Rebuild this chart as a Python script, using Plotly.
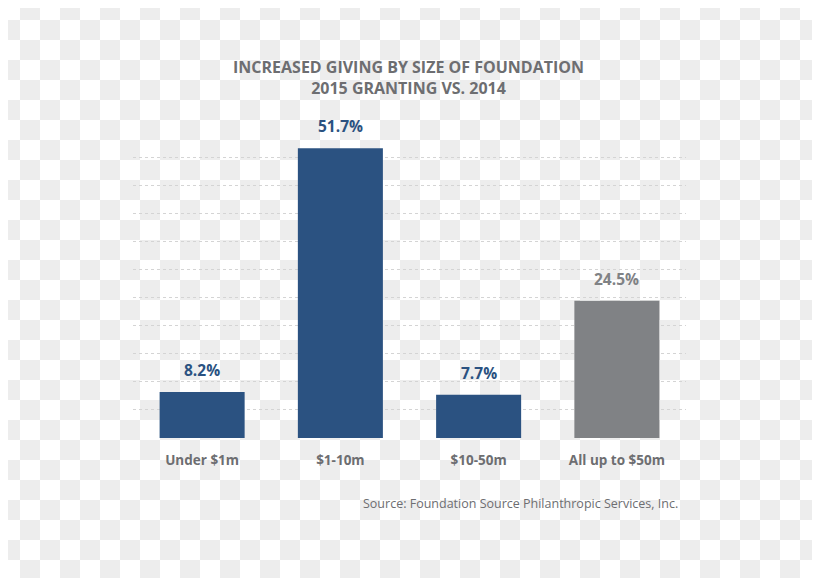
import plotly.graph_objects as go

categories = ["Under $1m", "$1-10m", "$10-50m", "All up to $50m"]
values = [8.2, 51.7, 7.7, 24.5]
value_labels = ["8.2%", "51.7%", "7.7%", "24.5%"]
bar_colors = ["#2b5281", "#2b5281", "#2b5281", "#808285"]
label_colors = ["#2b5281", "#2b5281", "#2b5281", "#808285"]

# page body adds an 8px offset; the figure is drawn in page pixels minus that offset
OFF = 8
W, H = 820 - OFF, 578 - OFF
ML, MR, MT, MB = 133 - OFF, 134, 141 - OFF, 140
PW, PH = W - ML - MR, H - MT - MB

def px_x(px):
    return (px - OFF - ML) / PW

def px_y(py):
    return (H - MB - (py - OFF)) / PH

# checkerboard background (transparency pattern of the source picture)
cell = 20
parts = []
for r in range(0, 578 // cell + 1):
    for c in range(0, 820 // cell + 1):
        if (r + c) % 2 == 1:
            x0, x1 = px_x(c * cell), px_x((c + 1) * cell)
            y0, y1 = px_y(r * cell), px_y((r + 1) * cell)
            parts.append(f"M{x0:.5f},{y0:.5f}L{x1:.5f},{y0:.5f}L{x1:.5f},{y1:.5f}L{x0:.5f},{y1:.5f}Z")
checker = dict(type="path", xref="paper", yref="paper", path="".join(parts),
               fillcolor="#ededed", line=dict(width=0), layer="below")

fig = go.Figure()
fig.add_trace(go.Bar(x=categories, y=values, marker=dict(color=bar_colors, line=dict(width=0)),
                     width=0.615, hoverinfo="skip"))

annotations = []
for cat, v, lab, col in zip(categories, values, value_labels, label_colors):
    annotations.append(dict(x=cat, y=v, text=lab, showarrow=False, yanchor="bottom",
                            yshift=9, font=dict(family="Open Sans", size=15.5, color=col, weight="bold")))
annotations.append(dict(x=px_x(680), y=px_y(503), xref="paper", yref="paper", xanchor="right",
                        yanchor="middle", showarrow=False,
                        text="Source: Foundation Source Philanthropic Services, Inc.",
                        font=dict(family="Open Sans", size=12.5, color="#6d6e71")))
annotations.append(dict(x=px_x(408), y=px_y(77), xref="paper", yref="paper", xanchor="center",
                        yanchor="middle", showarrow=False,
                        text="INCREASED GIVING BY SIZE OF FOUNDATION<br>2015 GRANTING VS. 2014",
                        font=dict(family="Open Sans", size=16, color="#6d6e71", weight="bold")))

fig.update_layout(
    width=W, height=H,
    margin=dict(l=ML, r=MR, t=MT, b=MB, pad=0),
    paper_bgcolor="white", plot_bgcolor="rgba(0,0,0,0)",
    showlegend=False,
    shapes=[checker],
    annotations=annotations,
    xaxis=dict(showgrid=False, showline=False, ticks="", zeroline=False,
               tickfont=dict(family="Open Sans", size=13.5, color="#6d6e71", weight="bold"),
               ticklabelstandoff=12, fixedrange=True),
    yaxis=dict(range=[0, 53], dtick=5, showticklabels=False, showgrid=True,
               gridcolor="#d4d4d4", griddash="dot", gridwidth=1, zeroline=False,
               fixedrange=True),
)

fig.write_html("out.html")
